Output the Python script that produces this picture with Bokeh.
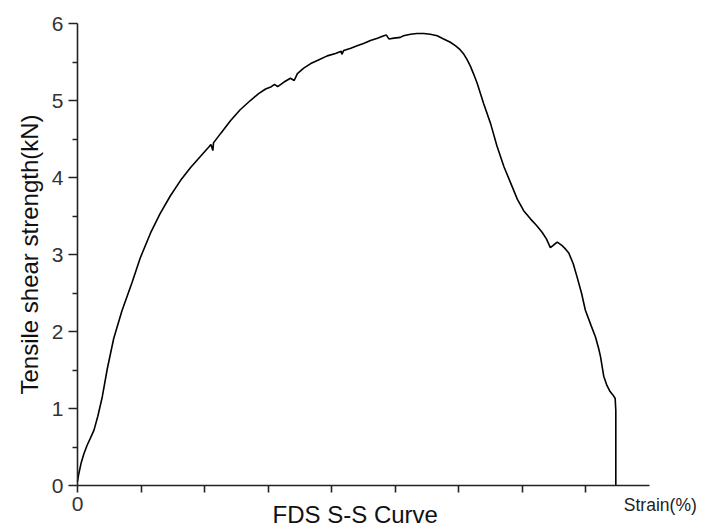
from bokeh.plotting import figure
from bokeh.models import Range1d, FixedTicker, Label
from bokeh.embed import file_html
from bokeh.resources import INLINE

# Data (strain %, tensile shear strength kN)
strain = [0.00, 0.02, 0.06, 0.10, 0.15, 0.20, 0.26, 0.32, 0.39, 0.47, 0.57, 0.70,
          0.86, 0.99, 1.15, 1.30, 1.46, 1.62, 1.78, 1.93, 2.07, 2.10, 2.13, 2.14,
          2.25, 2.41, 2.56, 2.72, 2.85, 2.96, 3.05, 3.10, 3.15, 3.25, 3.35, 3.41,
          3.46, 3.56, 3.67, 3.80, 3.93, 4.06, 4.15, 4.16, 4.19, 4.30, 4.40, 4.50,
          4.61, 4.72, 4.82, 4.86, 4.90, 4.98, 5.08, 5.13, 5.24, 5.34, 5.45, 5.55,
          5.66, 5.76, 5.86, 5.95, 6.02, 6.08, 6.13, 6.18, 6.23, 6.29, 6.39, 6.50,
          6.60, 6.71, 6.81, 6.92, 7.02, 7.13, 7.22, 7.31, 7.38, 7.44, 7.50, 7.55,
          7.62, 7.68, 7.73, 7.80, 7.86, 7.93, 7.99, 8.08, 8.15, 8.20, 8.23, 8.28,
          8.33, 8.38, 8.43, 8.46, 8.47, 8.47]
strength = [0.05, 0.15, 0.30, 0.41, 0.52, 0.61, 0.72, 0.90, 1.15, 1.52, 1.91, 2.27,
            2.64, 2.96, 3.28, 3.53, 3.76, 3.96, 4.13, 4.27, 4.40, 4.43, 4.35, 4.45,
            4.57, 4.74, 4.88, 5.00, 5.09, 5.15, 5.18, 5.21, 5.18, 5.24, 5.29, 5.26,
            5.35, 5.42, 5.48, 5.53, 5.58, 5.61, 5.64, 5.60, 5.65, 5.68, 5.71, 5.74,
            5.78, 5.81, 5.84, 5.85, 5.80, 5.81, 5.82, 5.84, 5.86, 5.87, 5.87, 5.86,
            5.84, 5.80, 5.76, 5.71, 5.66, 5.60, 5.53, 5.45, 5.35, 5.22, 4.96, 4.70,
            4.41, 4.14, 3.94, 3.72, 3.57, 3.46, 3.38, 3.29, 3.20, 3.09, 3.13, 3.16,
            3.12, 3.07, 3.02, 2.88, 2.71, 2.50, 2.28, 2.08, 1.93, 1.78, 1.67, 1.42,
            1.30, 1.22, 1.17, 1.13, 0.97, 0.00]

x_ticks = [0, 1, 2, 3, 4, 5, 6, 7, 8]
y_ticks = [0, 1, 2, 3, 4, 5, 6]
y_minor = [0.5, 1.5, 2.5, 3.5, 4.5, 5.5]

FONT = "Liberation Sans"

p = figure(width=709, height=529, output_backend="svg", toolbar_location=None,
           x_range=Range1d(-1.211, 9.944), y_range=Range1d(-0.571, 6.299),
           min_border_left=0, min_border_right=0, min_border_top=0, min_border_bottom=0)
p.outline_line_color = None
p.xgrid.visible = False
p.ygrid.visible = False
p.background_fill_color = "white"
p.border_fill_color = "white"

p.line(strain, strength, line_color="black", line_width=1.6)

# x axis, drawn at strength = 0
xa = p.xaxis[0]
xa.fixed_location = 0
xa.bounds = (0, 9)
xa.ticker = FixedTicker(ticks=x_ticks, minor_ticks=[])
xa.major_label_overrides = {t: "" for t in x_ticks[1:]}
xa.axis_line_color = "#222222"
xa.axis_line_width = 1.6
xa.major_tick_line_color = "#222222"
xa.major_tick_line_width = 1.6
xa.major_tick_in = 0
xa.major_tick_out = 7
xa.minor_tick_line_color = None
xa.major_label_text_font = FONT
xa.major_label_text_font_size = "21px"
xa.major_label_text_color = "#333333"
xa.major_label_standoff = 4

# y axis, drawn at strain = 0
ya = p.yaxis[0]
ya.fixed_location = 0
ya.bounds = (0, 6)
ya.ticker = FixedTicker(ticks=y_ticks, minor_ticks=y_minor)
ya.axis_line_color = "#222222"
ya.axis_line_width = 1.6
ya.major_tick_line_color = "#222222"
ya.major_tick_line_width = 1.6
ya.major_tick_in = 0
ya.major_tick_out = 9
ya.minor_tick_line_color = "#222222"
ya.minor_tick_line_width = 1.4
ya.minor_tick_in = 0
ya.minor_tick_out = 5
ya.major_label_text_font = FONT
ya.major_label_text_font_size = "21px"
ya.major_label_text_color = "#333333"
ya.major_label_standoff = 5
ya.axis_label = "Tensile shear strength(kN)"
ya.axis_label_text_font = FONT
ya.axis_label_text_font_size = "24px"
ya.axis_label_text_font_style = "normal"
ya.axis_label_text_color = "#111111"
ya.axis_label_standoff = 6

# texts below the axis
p.add_layout(Label(x=4.37, y=-0.38, text="FDS S-S Curve", text_align="center",
                   text_baseline="middle", text_font=FONT, text_font_size="24px",
                   text_color="#111111"))
p.add_layout(Label(x=9.17, y=-0.25, text="Strain(%)", text_align="center",
                   text_baseline="middle", text_font=FONT, text_font_size="17.5px",
                   text_color="#222222"))

open("out.html", "w").write(file_html(p, INLINE))
